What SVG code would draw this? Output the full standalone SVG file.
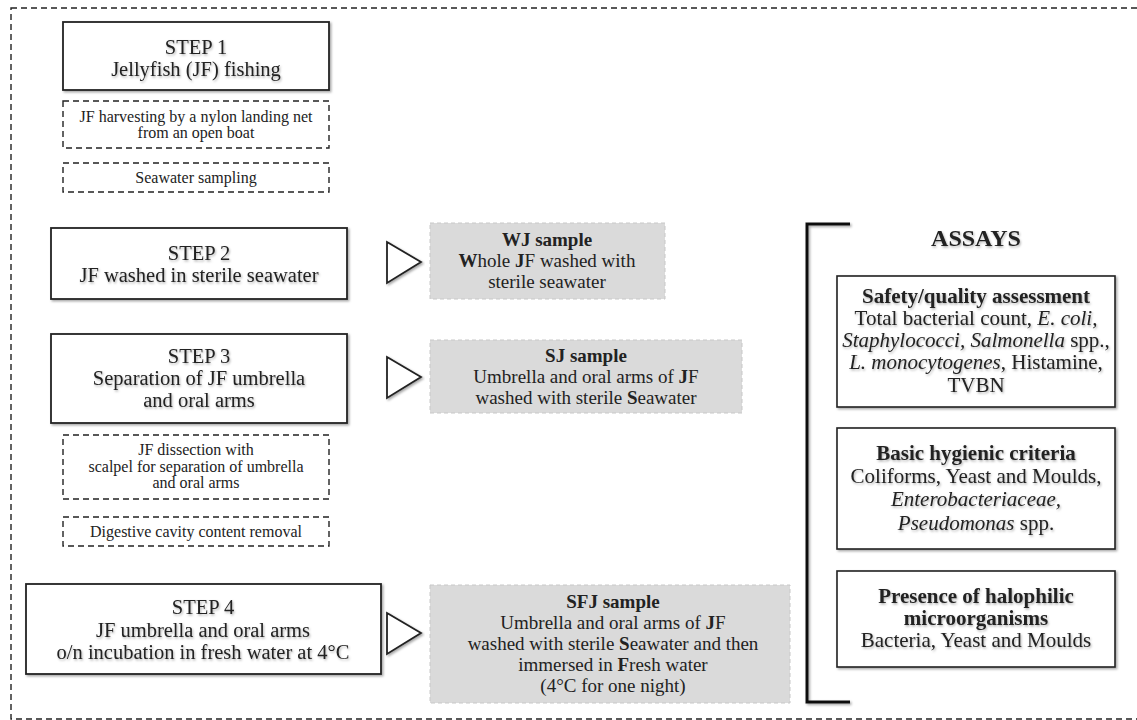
<svg xmlns="http://www.w3.org/2000/svg" width="1137" height="720" viewBox="0 0 1137 720">
<defs>
<filter id="sh" x="-5%" y="-5%" width="115%" height="120%">
<feDropShadow dx="1.5" dy="1.5" stdDeviation="1.2" flood-color="#000" flood-opacity="0.35"/>
</filter>
<filter id="tsh" x="-5%" y="-20%" width="110%" height="150%">
<feDropShadow dx="1" dy="1.5" stdDeviation="1" flood-color="#000" flood-opacity="0.3"/>
</filter>
</defs>
<style>
text{font-family:"Liberation Serif","DejaVu Serif",serif;fill:#222;text-anchor:middle}
.step{fill:#fff;stroke:#222;stroke-width:1.8}
.dash{fill:#fff;stroke:#222;stroke-width:1.4;stroke-dasharray:6,4}
.sample{fill:#dadada;stroke:#c8c8c8;stroke-width:1;stroke-dasharray:4,3}
.assay{fill:#fff;stroke:#222;stroke-width:1.6}
.big{font-size:20.5px}
.small{font-size:16px}
.mid{font-size:19px}
.as{font-size:21px}
.b{font-weight:bold}
.i{font-style:italic}
.tri{fill:#fff;stroke:#222;stroke-width:1.8;stroke-linejoin:miter}
</style>
<rect x="11" y="8" width="1140" height="711" fill="none" stroke="#222" stroke-width="1.4" stroke-dasharray="6,4"/>

<g id="step1">
<rect class="step" x="63" y="22" width="266" height="68" filter="url(#sh)"/>
<text class="big" x="196" y="54" filter="url(#tsh)">STEP 1</text>
<text class="big" x="196" y="76" filter="url(#tsh)">Jellyfish (JF) fishing</text>
</g>
<g id="harvest">
<rect class="dash" x="63" y="101" width="266" height="47"/>
<text class="small" x="196" y="122">JF harvesting by a nylon landing net</text>
<text class="small" x="196" y="138">from an open boat</text>
</g>
<g id="seawater">
<rect class="dash" x="63" y="163" width="266" height="29"/>
<text class="small" x="196" y="183">Seawater sampling</text>
</g>
<g id="step2">
<rect class="step" x="51" y="228" width="296" height="71" filter="url(#sh)"/>
<text class="big" x="199" y="260" filter="url(#tsh)">STEP 2</text>
<text class="big" x="199" y="282" filter="url(#tsh)">JF washed in sterile seawater</text>
</g>
<g id="step3">
<rect class="step" x="51" y="334" width="296" height="89" filter="url(#sh)"/>
<text class="big" x="199" y="363" filter="url(#tsh)">STEP 3</text>
<text class="big" x="199" y="385" filter="url(#tsh)">Separation of JF umbrella</text>
<text class="big" x="199" y="407" filter="url(#tsh)">and oral arms</text>
</g>
<g id="dissection">
<rect class="dash" x="63" y="435" width="266" height="64"/>
<text class="small" x="196" y="455">JF dissection with</text>
<text class="small" x="196" y="472">scalpel for separation of umbrella</text>
<text class="small" x="196" y="488">and oral arms</text>
</g>
<g id="digestive">
<rect class="dash" x="63" y="517" width="266" height="29"/>
<text class="small" x="196" y="537">Digestive cavity content removal</text>
</g>
<g id="step4">
<rect class="step" x="26" y="584" width="355" height="90" filter="url(#sh)"/>
<text class="big" x="203" y="614" filter="url(#tsh)">STEP 4</text>
<text class="big" x="203" y="637" filter="url(#tsh)">JF umbrella and oral arms</text>
<text class="big" x="203" y="659" filter="url(#tsh)">o/n incubation in fresh water at 4°C</text>
</g>

<g id="connectors">
<polygon class="tri" points="387,242 421,262 387,283" filter="url(#sh)"/>
<polygon class="tri" points="387,357 421,377 387,398" filter="url(#sh)"/>
<polygon class="tri" points="387,613 421,633 387,654" filter="url(#sh)"/>
<path d="M850,224 H807 V702 H850" fill="none" stroke="#111" stroke-width="3" filter="url(#sh)"/>
</g>

<g id="wj">
<rect class="sample" x="430" y="223" width="235" height="76"/>
<text class="mid" x="547" y="246"><tspan class="b">WJ sample</tspan></text>
<text class="mid" x="547" y="267"><tspan class="b">W</tspan>hole <tspan class="b">J</tspan>F washed with</text>
<text class="mid" x="547" y="288">sterile seawater</text>
</g>
<g id="sj">
<rect class="sample" x="430" y="340" width="312" height="73"/>
<text class="mid" x="586" y="362"><tspan class="b">SJ sample</tspan></text>
<text class="mid" x="586" y="383">Umbrella and oral arms of <tspan class="b">J</tspan>F</text>
<text class="mid" x="586" y="404">washed with sterile <tspan class="b">S</tspan>eawater</text>
</g>
<g id="sfj">
<rect class="sample" x="430" y="585" width="360" height="118"/>
<text class="mid" x="613" y="608"><tspan class="b">SFJ sample</tspan></text>
<text class="mid" x="613" y="629">Umbrella and oral arms of <tspan class="b">J</tspan>F</text>
<text class="mid" x="613" y="650">washed with sterile <tspan class="b">S</tspan>eawater and then</text>
<text class="mid" x="613" y="671">immersed in <tspan class="b">F</tspan>resh water</text>
<text class="mid" x="613" y="692">(4°C for one night)</text>
</g>

<g id="assays-title">
<text class="b" x="976" y="246" font-size="24" filter="url(#tsh)">ASSAYS</text>
</g>
<g id="safety">
<rect class="assay" x="837" y="276" width="278" height="131" filter="url(#sh)"/>
<text class="as b" x="976" y="303" filter="url(#tsh)">Safety/quality assessment</text>
<text class="as" x="976" y="325" filter="url(#tsh)">Total bacterial count, <tspan class="i">E. coli,</tspan></text>
<text class="as" x="976" y="347" filter="url(#tsh)"><tspan class="i">Staphylococci, Salmonella</tspan> spp.,</text>
<text class="as" x="976" y="369" filter="url(#tsh)"><tspan class="i">L. monocytogenes</tspan>, Histamine,</text>
<text class="as" x="976" y="392" filter="url(#tsh)">TVBN</text>
</g>
<g id="basic">
<rect class="assay" x="837" y="428" width="278" height="121" filter="url(#sh)"/>
<text class="as b" x="976" y="460" filter="url(#tsh)">Basic hygienic criteria</text>
<text class="as" x="976" y="483" filter="url(#tsh)">Coliforms, Yeast and Moulds,</text>
<text class="as" x="976" y="506" filter="url(#tsh)"><tspan class="i">Enterobacteriaceae,</tspan></text>
<text class="as" x="976" y="530" filter="url(#tsh)"><tspan class="i">Pseudomonas</tspan> spp.</text>
</g>
<g id="halophilic">
<rect class="assay" x="837" y="571" width="278" height="96" filter="url(#sh)"/>
<text class="as b" x="976" y="603" filter="url(#tsh)">Presence of halophilic</text>
<text class="as b" x="976" y="625" filter="url(#tsh)">microorganisms</text>
<text class="as" x="976" y="647" filter="url(#tsh)">Bacteria, Yeast and Moulds</text>
</g>
</svg>
